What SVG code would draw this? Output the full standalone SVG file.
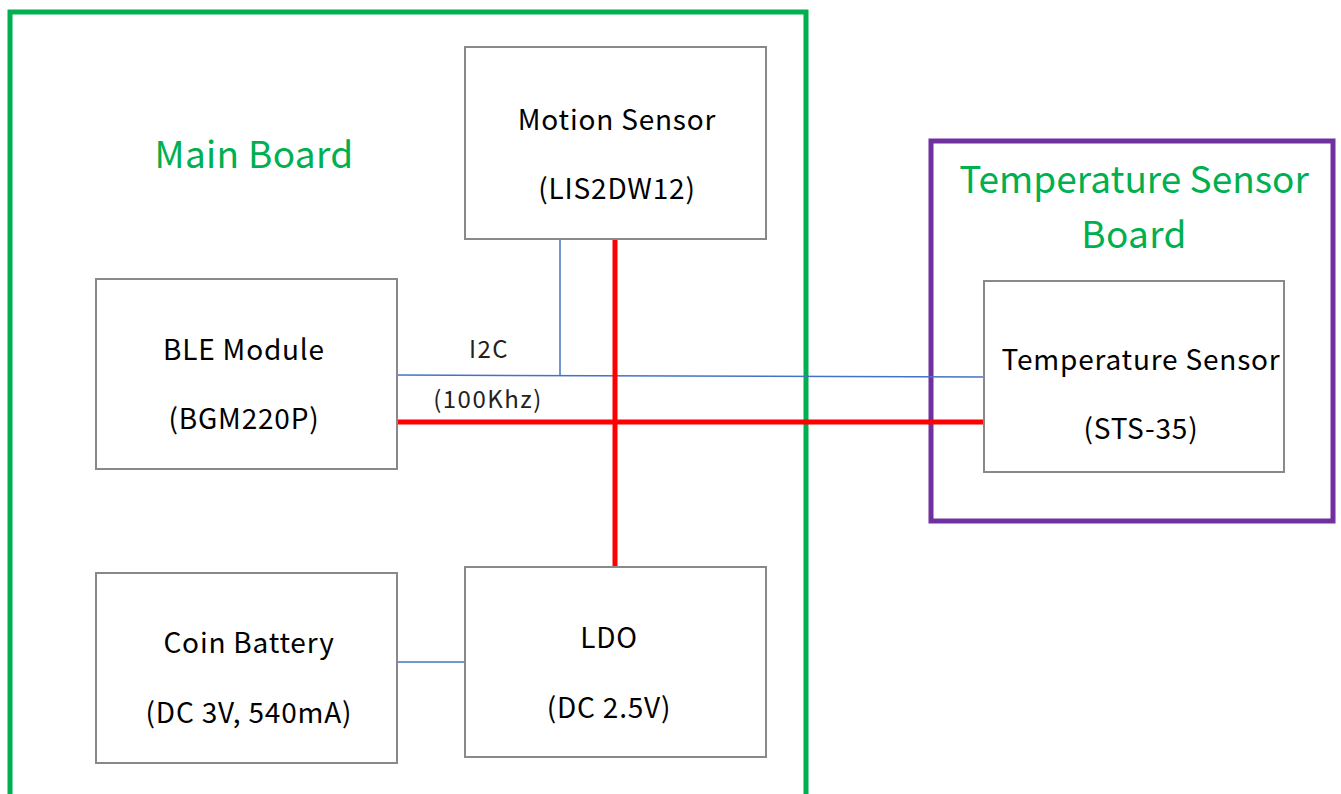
<svg xmlns="http://www.w3.org/2000/svg" width="1341" height="794" viewBox="0 0 1341 794">
<style>
.box{fill:#fff;stroke:#898989;stroke-width:2}
.t{font-family:"Noto Sans CJK KR","Noto Sans",sans-serif;font-size:28px;letter-spacing:0.8px;fill:#000;text-anchor:middle}
.s{font-family:"Noto Sans CJK KR","Noto Sans",sans-serif;font-size:24px;letter-spacing:1.5px;fill:#222;text-anchor:middle}
.g{font-family:"Noto Sans CJK KR","Noto Sans",sans-serif;font-size:37px;letter-spacing:0.3px;fill:#00B050;text-anchor:middle}
.blue{stroke:#4472C4;stroke-width:1.5;fill:none}
.red{stroke:#FF0000;stroke-width:5;fill:none}
</style>
<rect width="1341" height="794" fill="#fff"/>
<g id="main-board">
<path d="M10,800 V12 H806 V800" fill="none" stroke="#00B050" stroke-width="5"/>
<text class="g" x="254" y="168">Main Board</text>
</g>
<g id="temp-board">
<rect x="931" y="141" width="402" height="380" fill="none" stroke="#7030A0" stroke-width="5"/>
<text class="g" x="1134" y="193" style="letter-spacing:0">Temperature Sensor</text>
<text class="g" x="1134" y="248">Board</text>
</g>
<g id="connectors">
<path class="blue" d="M397,375 L984,377"/>
<path class="blue" d="M560,239 V375"/>
<path class="blue" d="M397,662 H465"/>
<path class="red" d="M397,422 H984"/>
<path class="red" d="M615,239 V567"/>
<text class="s" x="489" y="358">I2C</text>
<text class="s" x="488" y="408">(100Khz)</text>
</g>
<g id="motion-sensor">
<rect class="box" x="465" y="47" width="301" height="192"/>
<text class="t" x="617" y="130">Motion Sensor</text>
<text class="t" x="617" y="199">(LIS2DW12)</text>
</g>
<g id="ble-module">
<rect class="box" x="96" y="279" width="301" height="190"/>
<text class="t" x="244" y="360">BLE Module</text>
<text class="t" x="244" y="429">(BGM220P)</text>
</g>
<g id="coin-battery">
<rect class="box" x="96" y="573" width="301" height="190"/>
<text class="t" x="249" y="653">Coin Battery</text>
<text class="t" x="249" y="723">(DC 3V, 540mA)</text>
</g>
<g id="ldo">
<rect class="box" x="465" y="567" width="301" height="190"/>
<text class="t" x="609" y="648">LDO</text>
<text class="t" x="609" y="718">(DC 2.5V)</text>
</g>
<g id="temperature-sensor">
<rect class="box" x="984" y="281" width="300" height="191"/>
<text class="t" x="1141" y="370">Temperature Sensor</text>
<text class="t" x="1141" y="439">(STS-35)</text>
</g>
</svg>
